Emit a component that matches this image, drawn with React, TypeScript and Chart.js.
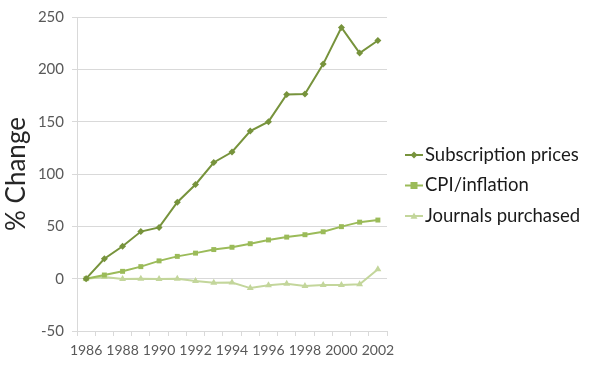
import React, { useEffect, useRef } from 'react';
import { Chart, registerables } from 'chart.js';

Chart.register(...registerables);

const years = ['1986', '1987', '1988', '1989', '1990', '1991', '1992', '1993', '1994', '1995', '1996', '1997', '1998', '1999', '2000', '2001', '2002'];
const subscriptionPrices = [0, 19, 31, 45, 49, 73, 90, 111, 121, 141, 150, 176, 176.5, 205, 240, 215.5, 227.5];
const cpiInflation = [0, 3.5, 7, 11.5, 17, 21.3, 24.4, 27.8, 30, 33.4, 37, 39.7, 42, 44.8, 49.7, 54, 56];
const journalsPurchased = [0, 1.5, -0.3, 0, -0.3, 0, -2.3, -3.8, -3.6, -9, -6.3, -4.8, -7, -6, -6, -5.3, 9];
const seriesLabels = ['Subscription prices', 'CPI/inflation', 'Journals purchased'];
const seriesColors = ['#77933C', '#9BBB59', '#C3D69B'];
const seriesMarkers = ['rectRot', 'rect', 'triangle'];
const yTitle = '% Change';

const FONT = 'Lato, "Open Sans", sans-serif';

function drawMarker(ctx: CanvasRenderingContext2D, style: string, x: number, y: number, r: number) {
  ctx.beginPath();
  if (style === 'rectRot') {
    ctx.moveTo(x, y - r);
    ctx.lineTo(x + r, y);
    ctx.lineTo(x, y + r);
    ctx.lineTo(x - r, y);
  } else if (style === 'rect') {
    ctx.rect(x - r, y - r, 2 * r, 2 * r);
  } else {
    ctx.moveTo(x, y - r);
    ctx.lineTo(x + r, y + r * 0.8);
    ctx.lineTo(x - r, y + r * 0.8);
  }
  ctx.closePath();
  ctx.fill();
}

const legendPlugin = {
  id: 'sideLegend',
  afterDraw(chart: any) {
    const ctx = chart.ctx as CanvasRenderingContext2D;
    ctx.save();
    chart.data.datasets.forEach((ds: any, i: number) => {
      const y = 155 + 30.5 * i;
      ctx.strokeStyle = ds.borderColor;
      ctx.fillStyle = ds.borderColor;
      ctx.lineWidth = 2;
      ctx.beginPath();
      ctx.moveTo(405, y);
      ctx.lineTo(423, y);
      ctx.stroke();
      drawMarker(ctx, ds.pointStyle, 414, y, 3.5);
      ctx.fillStyle = '#1a1a1a';
      ctx.font = `18.5px ${FONT}`;
      ctx.textBaseline = 'middle';
      ctx.textAlign = 'left';
      ctx.fillText(ds.label, 425, y);
    });
    ctx.restore();
  },
};

export default function App() {
  const ref = useRef<HTMLCanvasElement | null>(null);
  useEffect(() => {
    if (!ref.current) return;
    const series = [subscriptionPrices, cpiInflation, journalsPurchased];
    const chart = new Chart(ref.current, {
      type: 'line',
      data: {
        labels: years,
        datasets: series.map((d, i) => ({
          label: seriesLabels[i],
          data: d,
          borderColor: seriesColors[i],
          backgroundColor: seriesColors[i],
          pointBackgroundColor: seriesColors[i],
          pointBorderColor: seriesColors[i],
          pointStyle: seriesMarkers[i] as any,
          pointRadius: i === 2 ? 4 : 3.5,
          borderWidth: 2,
          pointBorderWidth: 0,
          tension: 0,
        })),
      },
      options: {
        animation: false,
        responsive: true,
        maintainAspectRatio: false,
        layout: { padding: { top: 12, right: 213, left: 0, bottom: 0 } },
        plugins: { legend: { display: false }, tooltip: { enabled: false } },
        scales: {
          x: {
            offset: true,
            afterFit(scale: any) { scale.height = 35; },
            grid: { drawOnChartArea: false, drawTicks: true, tickLength: 5, color: '#D9D9D9', offset: true },
            border: { color: '#D9D9D9' },
            ticks: {
              autoSkip: false,
              maxRotation: 0,
              padding: 6,
              color: '#595959',
              font: { family: FONT, size: 14 },
              callback: (_v: any, idx: number) => (idx % 2 === 0 ? years[idx] : ''),
            },
          },
          y: {
            min: -50,
            max: 250,
            afterFit(scale: any) { scale.width = 77; },
            grid: { color: '#D9D9D9', drawTicks: true, tickLength: 5 },
            border: { color: '#D9D9D9' },
            ticks: { stepSize: 50, padding: 8, color: '#595959', font: { family: FONT, size: 15 } },
            title: { display: true, text: yTitle, color: '#262626', font: { family: FONT, size: 26 }, padding: { top: 1, bottom: 0 } },
          },
        },
      },
      plugins: [legendPlugin],
    });
    return () => chart.destroy();
  }, []);
  return (
    <div style={{ position: 'fixed', left: 0, top: 0, width: 600, height: 366, background: '#fff' }}>
      <canvas ref={ref} />
    </div>
  );
}
